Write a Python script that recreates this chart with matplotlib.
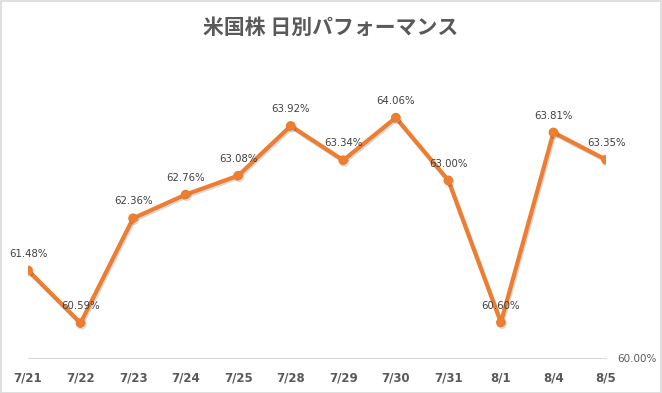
import matplotlib as mpl
mpl.use('Agg')
import matplotlib.pyplot as plt
import matplotlib.patheffects as pe
from matplotlib.patches import Rectangle

# daily performance (%)
dates = ['7/21', '7/22', '7/23', '7/24', '7/25', '7/28',
         '7/29', '7/30', '7/31', '8/1', '8/4', '8/5']
values = [61.48, 60.59, 62.36, 62.76, 63.08, 63.92,
          63.34, 64.06, 63.00, 60.60, 63.81, 63.35]

plt.rcParams['font.family'] = ['Noto Sans CJK JP', 'DejaVu Sans']

fig = plt.figure(figsize=(6.62, 3.93), dpi=100)
ax = fig.add_axes([28/662, 1 - 358/393, (606 - 28)/662, (358 - 62)/393])

x = list(range(len(dates)))
ax.plot(x, values, color='#ED7D31', lw=3, marker='o', ms=6,
        solid_joinstyle='round', zorder=3,
        path_effects=[pe.SimpleLineShadow(offset=(0.8, -1.2), alpha=0.15),
                      pe.Normal()])

for xi, v in zip(x, values):
    ax.annotate(f'{v:.2f}%', (xi, v), xytext=(0, 8.5), textcoords='offset points',
                ha='center', va='bottom', fontsize=7.3, color='#404040',
                family=['DejaVu Sans'])

ax.set_xlim(0, len(dates) - 1)
ax.set_ylim(60, 65)
ax.set_xticks(x)
ax.set_xticklabels(dates, fontsize=8.5, fontweight='bold', color='#595959',
                   family=['DejaVu Sans'])
ax.yaxis.tick_right()
ax.set_yticks([60])
ax.set_yticklabels(['60.00%'], fontsize=7.5, color='#595959', family=['DejaVu Sans'])
ax.tick_params(axis='both', length=0)
ax.tick_params(axis='x', pad=10)
ax.tick_params(axis='y', pad=8)
for s in ['top', 'left', 'right']:
    ax.spines[s].set_visible(False)
ax.spines['bottom'].set_color('#D9D9D9')
ax.patch.set_alpha(0)

fig.text(0.5, 1 - 27/393, '米国株 日別パフォーマンス', ha='center', va='center',
         fontsize=15, fontweight='bold', color='#595959')

fig.patches.append(Rectangle((0.001, 0.001), 0.997, 0.997, transform=fig.transFigure,
                             fill=False, edgecolor='#D9D9D9', lw=1.2))

plt.savefig('out.png', dpi=100)
